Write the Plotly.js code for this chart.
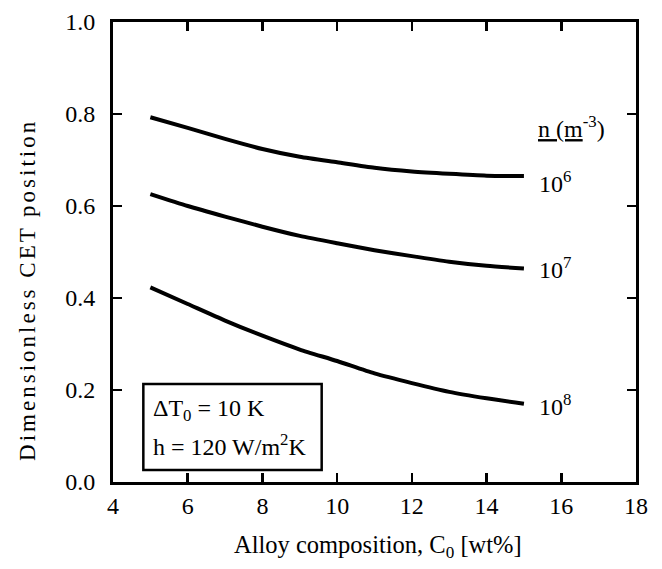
<!DOCTYPE html>
<html>
<head>
<meta charset="utf-8">
<script src="https://cdn.plot.ly/plotly-3.0.1.min.js"></script>
<style>
  html, body { margin: 0; padding: 0; background: #fff; }
  #chart { width: 662px; height: 569px; }
</style>
</head>
<body>
<div id="chart"></div>
<script>
// ---- data ----
const composition = [5, 6, 7, 8, 9, 10, 11, 12, 13, 14, 15];
const cetN1e6 = [0.793, 0.770, 0.746, 0.724, 0.707, 0.695, 0.683, 0.675, 0.670, 0.666, 0.665];
const cetN1e7 = [0.626, 0.600, 0.577, 0.555, 0.535, 0.519, 0.504, 0.491, 0.479, 0.470, 0.464];
const cetN1e8 = [0.423, 0.387, 0.351, 0.318, 0.288, 0.263, 0.236, 0.215, 0.196, 0.182, 0.170];
const seriesLabels = ['10<sup>6</sup>', '10<sup>7</sup>', '10<sup>8</sup>'];
const xTickVals = [4, 6, 8, 10, 12, 14, 16, 18];
const yTickVals = [0, 0.2, 0.4, 0.6, 0.8, 1.0];
const yTickText = ['0.0', '0.2', '0.4', '0.6', '0.8', '1.0'];
const legendTitle = '<u>n (m</u><sup>-3</sup>)';
const boxLines = ['\u0394T<sub>0</sub> = 10 K', 'h = 120 W/m<sup>2</sup>K'];
const xTitle = 'Alloy composition, C<sub>0</sub> [wt%]';
const yTitle = 'Dimensionless CET position';

const FONT = 'Liberation Serif';
const series = [cetN1e6, cetN1e7, cetN1e8];

const traces = series.map((ys, i) => ({
  x: composition,
  y: ys,
  type: 'scatter',
  mode: 'lines',
  line: { color: '#000', width: 4, shape: 'spline', smoothing: 0.6 },
  name: seriesLabels[i],
  showlegend: false,
  hoverinfo: 'skip'
}));

const labelY = [0.652, 0.465, 0.167];
const annotations = [];
seriesLabels.forEach((t, i) => {
  annotations.push({
    xref: 'paper', yref: 'paper', x: 0.811, y: labelY[i],
    xanchor: 'left', yanchor: 'middle', showarrow: false,
    text: t, font: { family: FONT, size: 24, color: '#000' }
  });
});
annotations.push({
  xref: 'paper', yref: 'paper', x: 0.809, y: 0.772,
  xanchor: 'left', yanchor: 'middle', showarrow: false,
  text: legendTitle, font: { family: FONT, size: 24, color: '#000' }
});
annotations.push({
  xref: 'paper', yref: 'paper', x: 0.073, y: 0.1565,
  xanchor: 'left', yanchor: 'middle', showarrow: false,
  text: boxLines[0], font: { family: FONT, size: 24, color: '#000' }
});
annotations.push({
  xref: 'paper', yref: 'paper', x: 0.073, y: 0.0804,
  xanchor: 'left', yanchor: 'middle', showarrow: false,
  text: boxLines[1], font: { family: FONT, size: 24, color: '#000' }
});
annotations.push({
  xref: 'paper', yref: 'paper', x: 0.507, y: -0.141,
  xanchor: 'center', yanchor: 'middle', showarrow: false,
  text: xTitle, font: { family: FONT, size: 24.5, color: '#000' }
});
annotations.push({
  xref: 'paper', yref: 'paper', x: -0.165, y: 0.417,
  xanchor: 'center', yanchor: 'middle', showarrow: false, textangle: -90,
  text: '<span style="letter-spacing:3px">' + yTitle + '</span>',
  font: { family: FONT, size: 23, color: '#000' }
});

const axisCommon = {
  showgrid: false, zeroline: false,
  showline: true, linecolor: '#000', linewidth: 3, mirror: 'ticks',
  ticks: 'inside', ticklen: 9, tickwidth: 2.5, tickcolor: '#000',
  tickfont: { family: FONT, size: 24, color: '#000' }
};

const layout = {
  width: 662, height: 569,
  margin: { l: 113, r: 26, t: 22, b: 87 },
  paper_bgcolor: '#fff', plot_bgcolor: '#fff',
  showlegend: false,
  font: { family: FONT, size: 22, color: '#000' },
  xaxis: Object.assign({}, axisCommon, {
    range: [4, 18], tickmode: 'array', tickvals: xTickVals,
    ticklabelstandoff: 0
  }),
  yaxis: Object.assign({}, axisCommon, {
    range: [0, 1], tickmode: 'array', tickvals: yTickVals, ticktext: yTickText,
    ticklabelstandoff: 10
  }),
  shapes: [{
    type: 'rect', xref: 'paper', yref: 'paper',
    x0: 0.058, x1: 0.399, y0: 0.026, y1: 0.213,
    line: { color: '#000', width: 2.5 }, fillcolor: 'rgba(0,0,0,0)'
  }],
  annotations: annotations
};

Plotly.newPlot('chart', traces, layout, { displayModeBar: false, staticPlot: true });
</script>
</body>
</html>
